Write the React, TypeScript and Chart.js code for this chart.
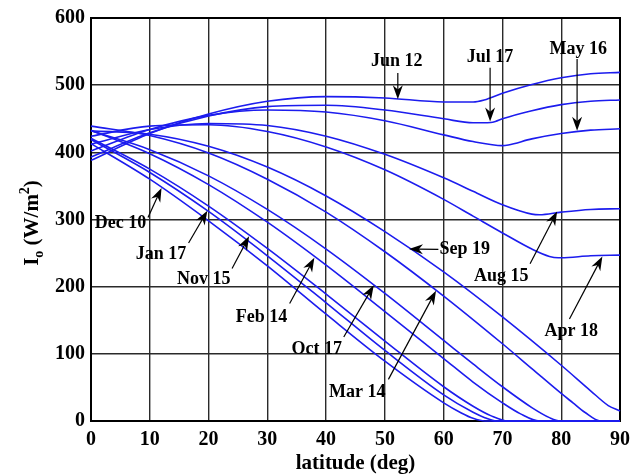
import React, { useEffect, useRef } from "react";
import { Chart, registerables } from "chart.js";

Chart.register(...registerables);

// ---- Data (latitude in deg, I_o in W/m^2) ----
const latTicks = [0, 10, 20, 30, 40, 50, 60, 70, 80, 90];
const irrTicks = [0, 100, 200, 300, 400, 500, 600];

const jun12: [number, number][] = [[0, 388], [10, 428], [20, 457], [30, 476], [40, 483], [50, 481], [60, 475], [65, 475], [66.9, 478], [70, 488], [75, 501], [80, 511], [85, 517], [90, 519]];
const jul17: [number, number][] = [[0, 393], [10, 429], [20, 454], [30, 468], [40, 470], [50, 463], [60, 450], [65, 444], [68, 444.5], [68.8, 446], [70, 450], [75, 462], [80, 471], [85, 476], [90, 478]];
const may16: [number, number][] = [[0, 402], [10, 434], [20, 455], [30, 463], [40, 460], [50, 447], [60, 426], [65, 416], [70, 410], [71, 411], [75, 420], [80, 428], [85, 433], [90, 435]];
const aug15: [number, number][] = [[0, 412], [10, 434], [20, 443], [30, 440], [40, 424], [50, 397], [60, 362], [65, 342], [70, 322], [75, 308], [76.3, 307], [80, 311], [85, 315], [90, 316]];
const apr18: [number, number][] = [[0, 424], [10, 439], [20, 441], [30, 431], [40, 408], [50, 374], [60, 330], [65, 305], [70, 280], [75, 256], [78, 245], [79.5, 243], [80, 243], [85, 246], [90, 247]];
const sep19: [number, number][] = [[0, 432], [10, 427], [20, 409], [30, 378], [40, 335], [50, 282], [60, 222], [70, 155], [80, 83], [85, 45], [88, 23], [90, 15]];
const mar14: [number, number][] = [[0, 439], [10, 425], [20, 399], [30, 360], [40, 311], [50, 252], [60, 186], [70, 115], [75, 78], [80, 41], [82, 27], [84, 13], [86.7, 0], [90, 0]];
const oct17: [number, number][] = [[0, 432], [10, 404], [20, 365], [30, 315], [40, 256], [50, 190], [60, 120], [65, 85], [70, 51], [75, 20], [78, 5], [79.8, 0], [90, 0]];
const feb14: [number, number][] = [[0, 433], [10, 398], [20, 352], [30, 296], [40, 232], [50, 163], [60, 93], [65, 58], [70, 27], [73, 11], [76.3, 0], [90, 0]];
const nov15: [number, number][] = [[0, 421], [10, 375], [20, 320], [30, 257], [40, 189], [50, 119], [60, 51], [65, 22], [68, 8], [70.9, 0], [90, 0]];
const jan17: [number, number][] = [[0, 419], [10, 370], [20, 312], [30, 246], [40, 176], [50, 105], [60, 39], [65, 13], [67, 5], [69, 0], [90, 0]];
const dec10: [number, number][] = [[0, 413], [10, 360], [20, 298], [30, 231], [40, 159], [50, 89], [60, 27], [63, 12], [65, 4], [67, 0], [90, 0]];

const seriesNames = ["Jun 12", "Jul 17", "May 16", "Aug 15", "Apr 18", "Sep 19", "Mar 14", "Oct 17", "Feb 14", "Nov 15", "Jan 17", "Dec 10"];
const seriesValues = [jun12, jul17, may16, aug15, apr18, sep19, mar14, oct17, feb14, nov15, jan17, dec10];

// Labels with arrows: text centre, arrow tail, arrow tip (data units)
const labelTexts = ["Jun 12", "Jul 17", "May 16", "Dec 10", "Jan 17", "Nov 15", "Feb 14", "Oct 17", "Mar 14", "Sep 19", "Aug 15", "Apr 18"];
const labelAt: [number, number][] = [[52.0, 535], [67.9, 542], [82.9, 553], [5.0, 295], [11.9, 248], [19.2, 211], [29.0, 155], [38.4, 107], [45.3, 42], [63.6, 255], [69.8, 215], [81.7, 133]];
const arrowFrom: [number, number][] = [[52.2, 518], [67.9, 526], [82.7, 539], [9.7, 303], [16.6, 265], [24.0, 227], [33.8, 175], [43.0, 125], [50.6, 62], [59.1, 255.5], [74.7, 234], [81.4, 152]];
const arrowTo: [number, number][] = [[52.2, 479], [67.9, 446], [82.7, 432], [12.0, 347], [19.8, 313], [26.9, 275], [38.0, 243], [48.1, 202], [58.7, 194], [54.1, 256], [79.3, 312], [87.0, 245]];

const FONT = "'Liberation Serif', 'Times New Roman', serif";
const LINE_BLUE = "#1c1cee";

function drawArrow(ctx: CanvasRenderingContext2D, x1: number, y1: number, x2: number, y2: number) {
  const ang = Math.atan2(y2 - y1, x2 - x1);
  const c = Math.cos(ang), s = Math.sin(ang);
  const L = 14, W = 5;
  ctx.beginPath();
  ctx.moveTo(x1, y1);
  ctx.lineTo(x2 - c * L * 0.6, y2 - s * L * 0.6);
  ctx.stroke();
  const bx = x2 - c * L, by = y2 - s * L;
  const px = -s, py = c;
  const nx = x2 - c * L * 0.7, ny = y2 - s * L * 0.7;
  ctx.beginPath();
  ctx.moveTo(x2, y2);
  ctx.lineTo(bx + px * W, by + py * W);
  ctx.lineTo(nx, ny);
  ctx.lineTo(bx - px * W, by - py * W);
  ctx.closePath();
  ctx.fill();
}

const framePlugin = {
  id: "frame",
  beforeDatasetsDraw(chart: any) {
    const { ctx, chartArea } = chart;
    ctx.save();
    ctx.strokeStyle = "#000";
    ctx.lineWidth = 2;
    ctx.strokeRect(chartArea.left, chartArea.top, chartArea.right - chartArea.left, chartArea.bottom - chartArea.top);
    ctx.restore();
  },
};

const annotationPlugin = {
  id: "annotations",
  afterDatasetsDraw(chart: any) {
    const { ctx } = chart;
    const xs = chart.scales.x, ys = chart.scales.y;
    ctx.save();
    ctx.fillStyle = "#000";
    ctx.strokeStyle = "#000";
    ctx.lineWidth = 1.2;
    ctx.font = `bold 18px ${FONT}`;
    ctx.textAlign = "center";
    ctx.textBaseline = "middle";
    for (let i = 0; i < labelTexts.length; i++) {
      const tx = xs.getPixelForValue(labelAt[i][0]);
      const ty = ys.getPixelForValue(labelAt[i][1]);
      ctx.fillText(labelTexts[i], tx, ty);
      drawArrow(
        ctx,
        xs.getPixelForValue(arrowFrom[i][0]), ys.getPixelForValue(arrowFrom[i][1]),
        xs.getPixelForValue(arrowTo[i][0]), ys.getPixelForValue(arrowTo[i][1])
      );
    }
    ctx.restore();
  },
};

const titlesPlugin = {
  id: "titles",
  afterDraw(chart: any) {
    const { ctx, chartArea } = chart;
    ctx.save();
    ctx.fillStyle = "#000";
    // x title
    ctx.font = `bold 21px ${FONT}`;
    ctx.textAlign = "center";
    ctx.textBaseline = "alphabetic";
    ctx.fillText("latitude (deg)", (chartArea.left + chartArea.right) / 2, 469);
    // y title, rotated, with subscript and superscript
    const big = `bold 21px ${FONT}`;
    const small = `bold 14px ${FONT}`;
    const segs: [string, string, number][] = [
      ["I", big, 0],
      ["o", small, 5],
      [" (W/m", big, 0],
      ["2", small, -9],
      [")", big, 0],
    ];
    let total = 0;
    const widths = segs.map(([t, f]) => {
      ctx.font = f;
      const w = ctx.measureText(t).width;
      total += w;
      return w;
    });
    ctx.translate(38, 223);
    ctx.rotate(-Math.PI / 2);
    ctx.textAlign = "left";
    let x = -total / 2;
    segs.forEach(([t, f, dy], i) => {
      ctx.font = f;
      ctx.fillText(t, x, dy);
      x += widths[i];
    });
    ctx.restore();
  },
};

export default function App() {
  const canvasRef = useRef<HTMLCanvasElement | null>(null);

  useEffect(() => {
    if (!canvasRef.current) return;
    const datasets = seriesValues.map((vals, i) => ({
      label: seriesNames[i],
      data: vals.map(([x, y]) => ({ x, y })),
      borderColor: LINE_BLUE,
      backgroundColor: LINE_BLUE,
      borderWidth: 1.6,
      pointRadius: 0,
      fill: false,
      cubicInterpolationMode: "monotone" as const,
      clip: false as any,
    }));
    const tickFont = { family: FONT, size: 20, weight: "bold" as const };
    const chart = new Chart(canvasRef.current, {
      type: "line",
      data: { datasets },
      options: {
        animation: false,
        responsive: false,
        events: [],
        layout: { padding: { left: 0, right: 11, top: 17, bottom: 0 } },
        plugins: {
          legend: { display: false },
          tooltip: { enabled: false },
        },
        scales: {
          x: {
            type: "linear",
            min: latTicks[0],
            max: latTicks[latTicks.length - 1],
            afterFit: (s: any) => { s.height = 55; },
            afterBuildTicks: (s: any) => { s.ticks = latTicks.map((v) => ({ value: v })); },
            ticks: { font: tickFont, color: "#000", padding: 7, maxRotation: 0, autoSkip: false },
            grid: { color: "#2a2a2a", lineWidth: 1.4, drawTicks: false },
            border: { display: false },
          },
          y: {
            type: "linear",
            min: irrTicks[0],
            max: irrTicks[irrTicks.length - 1],
            afterFit: (s: any) => { s.width = 91; },
            afterBuildTicks: (s: any) => { s.ticks = irrTicks.map((v) => ({ value: v })); },
            ticks: { font: tickFont, color: "#000", padding: 6 },
            grid: { color: "#2a2a2a", lineWidth: 1.4, drawTicks: false },
            border: { display: false },
          },
        },
      } as any,
      plugins: [framePlugin, annotationPlugin, titlesPlugin],
    });
    return () => chart.destroy();
  }, []);

  return (
    <div style={{ position: "fixed", left: 0, top: 0, width: 637, height: 476, background: "#fff" }}>
      <canvas ref={canvasRef} width={637} height={476} style={{ display: "block", width: 637, height: 476 }} />
    </div>
  );
}
